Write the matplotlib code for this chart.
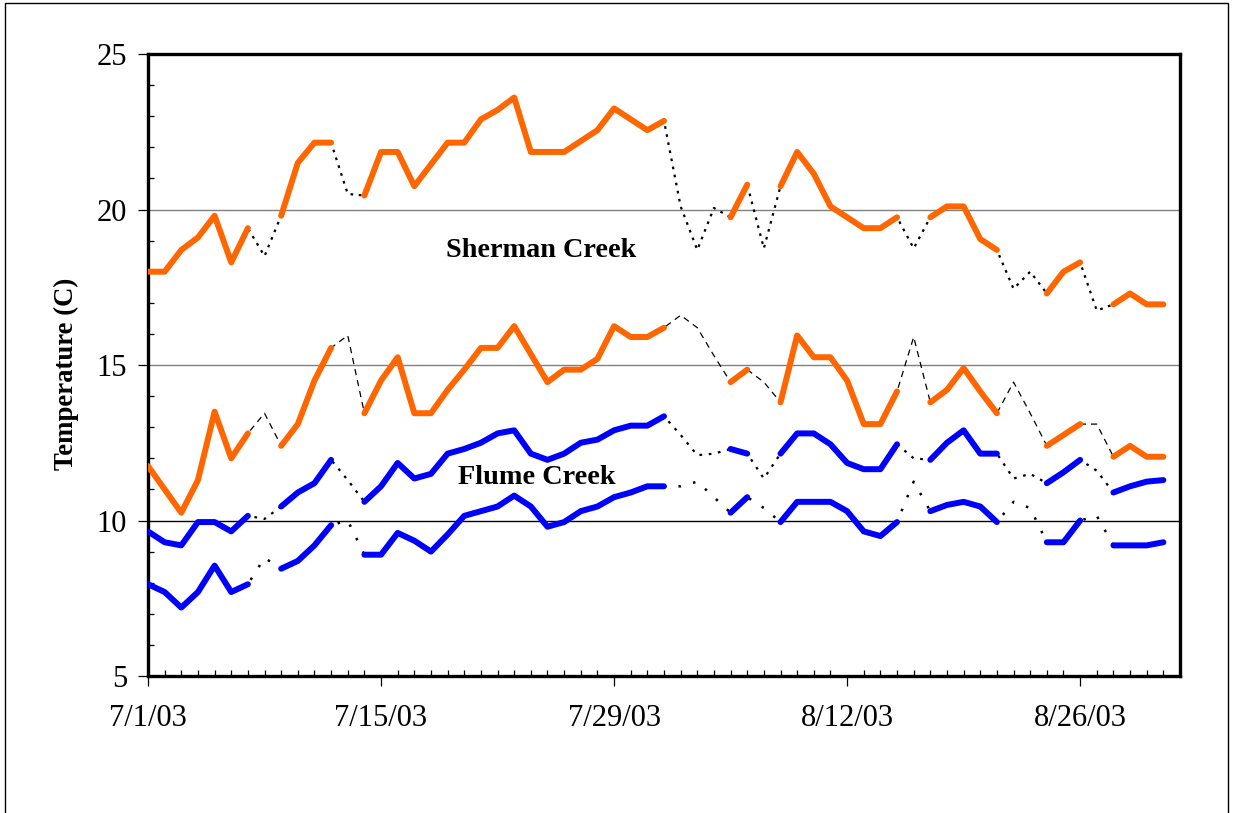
import numpy as np
import pandas as pd
import matplotlib
matplotlib.use("Agg")
import matplotlib.pyplot as plt
import matplotlib.dates as mdates
from matplotlib.patches import Rectangle

# ---- data (daily values, 7/1/03 - 8/31/03) ----
start_date = "2003-07-01"
n_days = 62

sherman_max = [18.0, 18.0, 18.7, 19.1, 19.8, 18.3, 19.4, 18.5, 19.8, 21.5,
               22.15, 22.15, 20.5, 20.45, 21.85, 21.85, 20.75, 21.45, 22.15, 22.15,
               22.9, 23.2, 23.6, 21.85, 21.85, 21.85, 22.2, 22.55, 23.25, 22.9,
               22.55, 22.85, 20.1, 18.7, 20.05, 19.75, 20.8, 18.75, 20.75, 21.85,
               21.15, 20.1, 19.75, 19.4, 19.4, 19.75, 18.75, 19.75, 20.1, 20.1,
               19.05, 18.7, 17.45, 18.0, 17.3, 18.0, 18.3, 16.75, 16.95, 17.3,
               16.95, 16.95]
sherman_min = [11.75, 11.0, 10.25, 11.3, 13.5, 12.0, 12.8, 13.45, 12.4, 13.1,
               14.5, 15.55, 15.95, 13.45, 14.5, 15.25, 13.45, 13.45, 14.2, 14.85,
               15.55, 15.55, 16.25, 15.35, 14.45, 14.85, 14.85, 15.2, 16.25, 15.9,
               15.9, 16.2, 16.6, 16.2, 15.3, 14.45, 14.85, 14.45, 13.8, 15.95,
               15.25, 15.25, 14.5, 13.1, 13.1, 14.15, 15.9, 13.8, 14.2, 14.9,
               14.15, 13.45, 14.45, 13.45, 12.4, 12.75, 13.1, 13.1, 12.05, 12.4,
               12.05, 12.05]
flume_max = [9.65, 9.3, 9.2, 9.95, 9.95, 9.65, 10.15, 10.05, 10.45, 10.9,
             11.2, 11.95, 11.3, 10.6, 11.1, 11.85, 11.35, 11.5, 12.15, 12.3,
             12.5, 12.8, 12.9, 12.15, 11.95, 12.15, 12.5, 12.6, 12.9, 13.05,
             13.05, 13.35, 12.75, 12.1, 12.15, 12.3, 12.15, 11.35, 12.15, 12.8,
             12.8, 12.45, 11.85, 11.65, 11.65, 12.45, 12.0, 11.95, 12.5, 12.9,
             12.15, 12.15, 11.35, 11.5, 11.2, 11.55, 11.95, 11.6, 10.9, 11.1,
             11.25, 11.3]
flume_min = [7.95, 7.7, 7.2, 7.7, 8.55, 7.7, 7.95, 8.8, 8.45, 8.7,
             9.2, 9.85, 10.0, 8.9, 8.9, 9.6, 9.35, 9.0, 9.55, 10.15,
             10.3, 10.45, 10.8, 10.45, 9.8, 9.95, 10.3, 10.45, 10.75, 10.9,
             11.1, 11.1, 11.1, 11.25, 10.75, 10.25, 10.75, 10.4, 9.95, 10.6,
             10.6, 10.6, 10.3, 9.65, 9.5, 9.95, 11.25, 10.3, 10.5, 10.6,
             10.45, 9.95, 10.6, 10.4, 9.3, 9.3, 10.0, 10.15, 9.2, 9.2,
             9.2, 9.3]
# days drawn only by the thin dotted trace (thick line omitted)
gap_days = [7, 12, 32, 33, 34, 37, 46, 52, 53, 57]

tick_dates = ["2003-07-01", "2003-07-15", "2003-07-29", "2003-08-12", "2003-08-26"]
tick_labels = ["7/1/03", "7/15/03", "7/29/03", "8/12/03", "8/26/03"]
y_ticks = [5, 10, 15, 20, 25]
site_labels = ["Sherman Creek", "Flume Creek"]

# ---- plotting ----
plt.rcParams["font.family"] = ["Liberation Serif", "DejaVu Serif"]

dates = pd.date_range(start_date, periods=n_days)
measured = np.array([d not in gap_days for d in range(n_days)])

fig = plt.figure(figsize=(12.33, 8.13), dpi=100)
ax = fig.add_axes([148 / 1233, 1 - 676 / 813, (1180 - 148) / 1233, (676 - 54) / 813])

# gridlines
for yv, col in [(10, "black"), (15, "#808080"), (20, "#808080")]:
    ax.axhline(yv, color=col, lw=1.0, zorder=1)

series = [
    (sherman_max, "#FF6600", dict(ls=(0, (1.2, 2.5)), lw=1.6)),
    (sherman_min, "#FF6600", dict(ls=(0, (5, 4)), lw=0.9)),
    (flume_max, "#0000FF", dict(ls=(0, (1.2, 3.0)), lw=1.6)),
    (flume_min, "#0000FF", dict(ls=(0, (1.0, 5.0)), lw=1.8)),
]
for vals, col, dstyle in series:
    v = np.array(vals, dtype=float)
    ax.plot(dates, v, color="black", zorder=2, **dstyle)
    thick = np.where(measured, v, np.nan)
    ax.plot(dates, thick, color=col, lw=4.3, zorder=3,
            solid_capstyle="round", solid_joinstyle="round")

ax.set_ylim(5, 25)
ax.set_xlim(pd.Timestamp("2003-07-01"), pd.Timestamp("2003-09-01"))

ax.set_yticks(y_ticks)
ax.set_yticks(np.arange(5, 26, 1), minor=True)
ax.set_xticks(pd.to_datetime(tick_dates))
ax.set_xticklabels(tick_labels)
ax.xaxis.set_minor_locator(mdates.DayLocator())

ax.tick_params(axis="both", which="major", labelsize=22, color="black",
               direction="out", length=7, width=0.9)
ax.tick_params(axis="x", which="major", pad=13)
ax.tick_params(axis="y", which="major", pad=8)
ax.tick_params(axis="both", which="minor", direction="in", length=4, width=0.9)

for sp in ax.spines.values():
    sp.set_linewidth(2.4)
    sp.set_color("black")

ax.text(pd.Timestamp("2003-07-01") + pd.Timedelta(days=23.6), 18.67, site_labels[0],
        fontsize=20.3, fontweight="bold", ha="center", va="center", zorder=5)
ax.text(pd.Timestamp("2003-07-01") + pd.Timedelta(days=23.35), 11.37, site_labels[1],
        fontsize=20.3, fontweight="bold", ha="center", va="center", zorder=5)

fig.text(66 / 1233, 1 - 374 / 813, "Temperature (C)", rotation=90, fontsize=19.3,
         fontweight="bold", ha="center", va="center")

fig.patches.append(Rectangle((5 / 1233, -0.02), (1228 - 5) / 1233, 1 - 3 / 813 + 0.02,
                             transform=fig.transFigure, fill=False,
                             edgecolor="black", lw=1.0))

fig.savefig("out.png", dpi=100)
